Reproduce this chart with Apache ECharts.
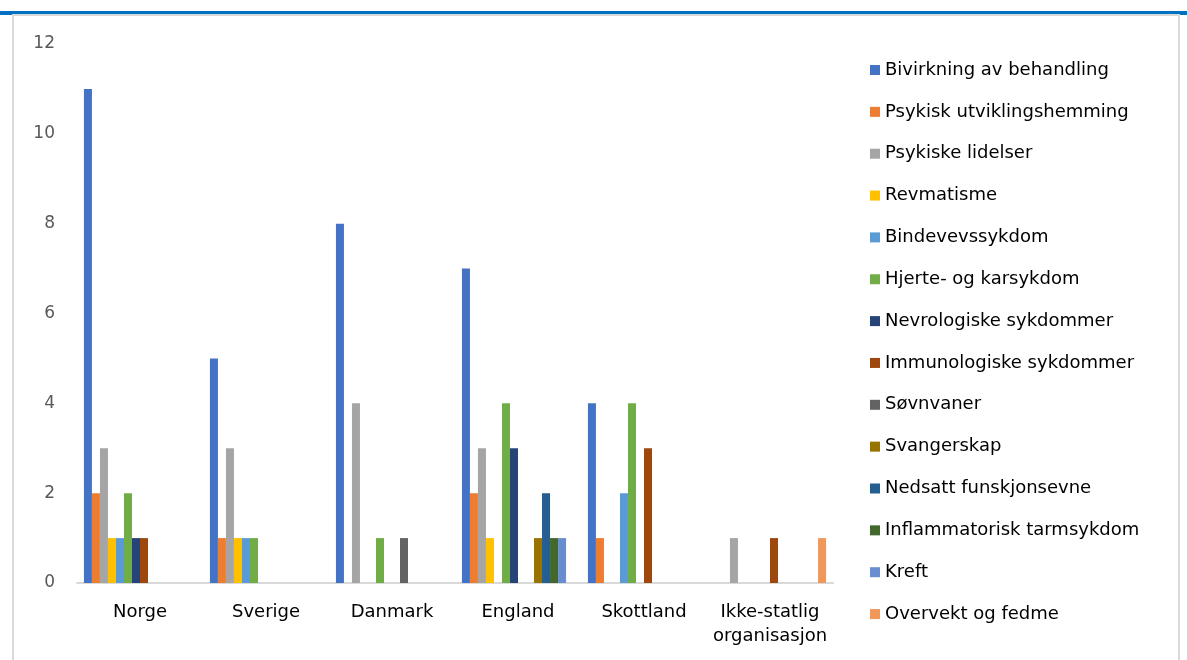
<!DOCTYPE html>
<html>
<head>
<meta charset="utf-8">
<script src="https://cdn.jsdelivr.net/npm/echarts@6/dist/echarts.min.js"></script>
<style>
  html, body { margin: 0; padding: 0; background: #fff; }
  #chart { width: 1187px; height: 660px; }
</style>
</head>
<body>
<div id="chart"></div>
<script>
// kategorier (land / aktør)
const categories = ["Norge", "Sverige", "Danmark", "England", "Skottland", "Ikke-statlig\norganisasjon"];

// en serie per sykdomsområde
const bivirkning = [11, 5, 8, 7, 4, 0];
const psykiskUtvikling = [2, 1, 0, 2, 1, 0];
const psykiskeLidelser = [3, 3, 4, 3, 0, 1];
const revmatisme = [1, 1, 0, 1, 0, 0];
const bindevev = [1, 1, 0, 0, 2, 0];
const hjerteKar = [2, 1, 1, 4, 4, 0];
const nevrologiske = [1, 0, 0, 3, 0, 0];
const immunologiske = [1, 0, 0, 0, 3, 1];
const sovnvaner = [0, 0, 1, 0, 0, 0];
const svangerskap = [0, 0, 0, 1, 0, 0];
const nedsatt = [0, 0, 0, 2, 0, 0];
const inflammatorisk = [0, 0, 0, 1, 0, 0];
const kreft = [0, 0, 0, 1, 0, 0];
const overvekt = [0, 0, 0, 0, 0, 1];

const seriesNames = [
  "Bivirkning av behandling", "Psykisk utviklingshemming", "Psykiske lidelser",
  "Revmatisme", "Bindevevssykdom", "Hjerte- og karsykdom", "Nevrologiske sykdommer",
  "Immunologiske sykdommer", "Søvnvaner", "Svangerskap", "Nedsatt funskjonsevne",
  "Inflammatorisk tarmsykdom", "Kreft", "Overvekt og fedme"
];
const seriesValues = [
  bivirkning, psykiskUtvikling, psykiskeLidelser, revmatisme, bindevev, hjerteKar,
  nevrologiske, immunologiske, sovnvaner, svangerskap, nedsatt, inflammatorisk, kreft, overvekt
];
const yTicks = [0, 2, 4, 6, 8, 10, 12];

const colors = ["#4472C4", "#ED7D31", "#A5A5A5", "#FFC000", "#5B9BD5", "#70AD47",
  "#264478", "#9E480E", "#636363", "#997300", "#255E91", "#43682B", "#698ED0", "#F1975A"];

const font = "'DejaVu Sans', sans-serif";

const chart = echarts.init(document.getElementById("chart"));
chart.setOption({
  animation: false,
  color: colors,
  textStyle: { fontFamily: font },
  graphic: [
    // blå linje øverst
    { type: "rect", shape: { x: 0, y: 11, width: 1187, height: 4 }, style: { fill: "#0070C0" }, silent: true },
    // lys ramme rundt diagrammet
    { type: "rect", shape: { x: 13, y: 15, width: 1166, height: 660 }, style: { fill: "none", stroke: "#D9D9D9", lineWidth: 2 }, silent: true }
  ],
  grid: { left: 77, right: 354, top: 44, bottom: 77 },
  legend: {
    orient: "vertical",
    left: 870,
    top: 60,
    padding: 0,
    itemWidth: 10,
    itemHeight: 10,
    itemGap: 21.85,
    icon: "rect",
    textStyle: { fontSize: 18, color: "#000", lineHeight: 20, fontFamily: font },
    data: seriesNames
  },
  xAxis: {
    type: "category",
    data: categories,
    axisLine: { lineStyle: { color: "#D9D9D9", width: 2 } },
    axisTick: { show: false },
    axisLabel: { fontSize: 18, color: "#000", margin: 17, lineHeight: 24, interval: 0 }
  },
  yAxis: {
    type: "value",
    min: 0,
    max: yTicks[yTicks.length - 1],
    interval: 2,
    splitLine: { show: false },
    axisLine: { show: false },
    axisTick: { show: false },
    axisLabel: { fontSize: 17, color: "#595959", margin: 22 }
  },
  series: seriesNames.map((name, i) => ({
    name: name,
    type: "bar",
    data: seriesValues[i],
    barGap: 0,
    barCategoryGap: "11%"
  }))
});
</script>
</body>
</html>
